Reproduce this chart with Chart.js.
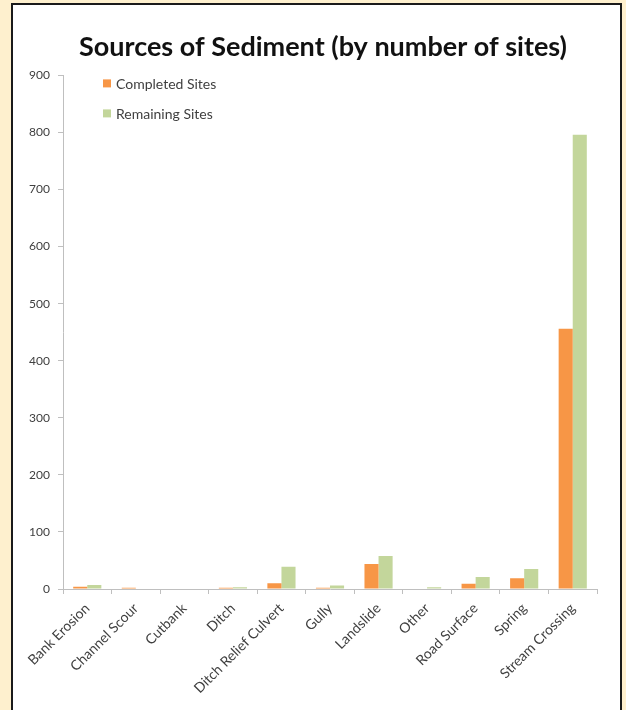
<!DOCTYPE html>
<html>
<head>
<meta charset="utf-8">
<script src="https://cdn.jsdelivr.net/npm/chart.js@4.4.1/dist/chart.umd.min.js"></script>
<style>
  html, body { margin: 0; padding: 0; }
  body { width: 626px; height: 710px; background: #FEF0CE; position: relative; overflow: hidden; }
  #frame { position: absolute; left: 11px; top: 3px; width: 607px; height: 720px; border: 2px solid #1a1a1a; background: #ffffff; }
  #wrap { position: absolute; left: 20px; top: 0; width: 606px; height: 710px; }
</style>
</head>
<body>
<div id="frame"></div>
<div id="wrap"><canvas id="c" width="606" height="710"></canvas></div>
<script>
const categories = ["Bank Erosion", "Channel Scour", "Cutbank", "Ditch", "Ditch Relief Culvert", "Gully", "Landslide", "Other", "Road Surface", "Spring", "Stream Crossing"];
const completedSites = [4, 2, 0, 2, 10, 2, 44, 1, 9, 19, 456];
const remainingSites = [7, 0, 1, 3, 39, 6, 58, 3, 21, 35, 796];
const seriesNames = ["Completed Sites", "Remaining Sites"];
const yTicks = { min: 0, max: 900, step: 100 };

const FONT = "Lato, 'Open Sans', sans-serif";

const insideLegend = {
  id: 'insideLegend',
  afterDraw(chart) {
    const ctx = chart.ctx;
    const area = chart.chartArea;
    ctx.save();
    ctx.font = "14px " + FONT;
    ctx.textBaseline = 'middle';
    ctx.textAlign = 'left';
    chart.data.datasets.forEach((ds, i) => {
      const x = area.left + 40;
      const y = area.top + 8 + i * 30;
      ctx.fillStyle = ds.backgroundColor;
      ctx.fillRect(x, y - 4, 8, 8);
      ctx.fillStyle = '#404040';
      ctx.fillText(ds.label, x + 13, y + 1);
    });
    ctx.restore();
  }
};

new Chart(document.getElementById('c'), {
  type: 'bar',
  data: {
    labels: categories,
    datasets: [
      { label: seriesNames[0], data: completedSites, backgroundColor: '#F79646', categoryPercentage: 0.58, barPercentage: 1.0 },
      { label: seriesNames[1], data: remainingSites, backgroundColor: '#C3D69B', categoryPercentage: 0.58, barPercentage: 1.0 }
    ]
  },
  options: {
    responsive: false,
    animation: false,
    layout: { padding: { left: 0, right: 0, top: 0, bottom: 0 } },
    plugins: {
      legend: { display: false },
      tooltip: { enabled: false },
      title: {
        display: true,
        text: 'Sources of Sediment (by number of sites)',
        color: '#111111',
        font: { family: FONT, size: 27, weight: 'bold' },
        padding: { top: 31, bottom: 12 }
      }
    },
    scales: {
      x: {
        grid: { display: true, drawOnChartArea: false, offset: true, tickLength: 5, color: '#BFBFBF' },
        border: { display: true, color: '#BFBFBF', width: 1 },
        ticks: { color: '#404040', font: { family: FONT, size: 14 }, minRotation: 45, maxRotation: 45, autoSkip: false, padding: 6 },
        afterFit(s) { s.height = 121; }
      },
      y: {
        min: yTicks.min, max: yTicks.max,
        grid: { display: true, drawOnChartArea: false, tickLength: 5, color: '#BFBFBF' },
        border: { display: true, color: '#BFBFBF', width: 1 },
        ticks: { stepSize: yTicks.step, color: '#404040', font: { family: FONT, size: 12 }, padding: 8 },
        afterFit(s) { s.width = 43; }
      },
      yPad: {
        position: 'right', display: true,
        grid: { display: false }, border: { display: false },
        ticks: { display: false },
        afterFit(s) { s.width = 29; }
      }
    }
  },
  plugins: [insideLegend]
});
</script>
</body>
</html>
